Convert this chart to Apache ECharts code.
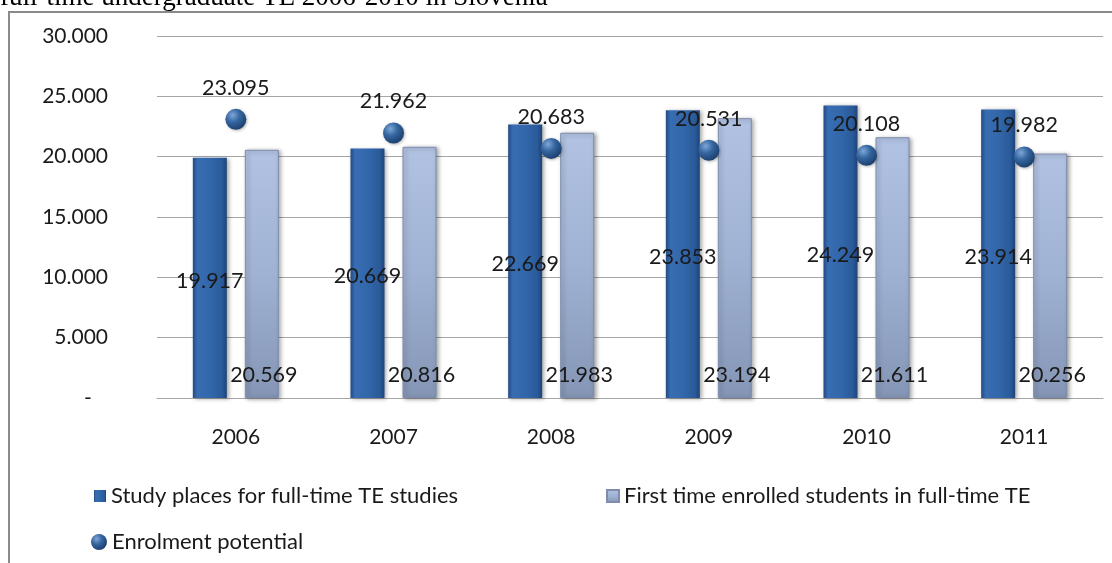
<!DOCTYPE html>
<html>
<head>
<meta charset="utf-8">
<script src="https://cdn.jsdelivr.net/npm/echarts@6/dist/echarts.min.js"></script>
<style>
  html, body { margin: 0; padding: 0; background: #ffffff; }
  #chart { width: 1112px; height: 563px; }
</style>
</head>
<body>
<div id="chart"></div>
<script>
// Full-time tertiary education in Slovenia, by year
const years = ['2006', '2007', '2008', '2009', '2010', '2011'];
const studyPlaces = [19917, 20669, 22669, 23853, 24249, 23914];
const firstEnrolled = [20569, 20816, 21983, 23194, 21611, 20256];
const enrolmentPotential = [23095, 21962, 20683, 20531, 20108, 19982];

const seriesNames = [
  'Study places for full-time TE studies',
  'First time enrolled students in full-time TE',
  'Enrolment potential'
];
const captionText = 'full-time undergraduate TE 2006-2010 in Slovenia';

const FONT = 'Lato, "Open Sans", sans-serif';
const TEXT = '#1a1a1a';
const NUM_SIZE = 21.5;

// thousands written with a dot, e.g. 23.095
function fmt(v) {
  return (v / 1000).toFixed(3);
}

const darkFill = new echarts.graphic.LinearGradient(0, 0, 1, 0, [
  { offset: 0, color: '#224b85' },
  { offset: 0.14, color: '#386db3' },
  { offset: 0.55, color: '#3166a9' },
  { offset: 0.86, color: '#2a5a99' },
  { offset: 1, color: '#1d447a' }
]);
const lightFill = new echarts.graphic.LinearGradient(0, 0, 0, 1, [
  { offset: 0, color: '#b1c2e2' },
  { offset: 0.5, color: '#a0b2d3' },
  { offset: 1, color: '#8495b5' }
]);
const sphereFill = new echarts.graphic.RadialGradient(0.35, 0.3, 0.75, [
  { offset: 0, color: '#7ea6d8' },
  { offset: 0.45, color: '#3566a0' },
  { offset: 1, color: '#1a3d6c' }
]);

const chart = echarts.init(document.getElementById('chart'), null, { renderer: 'canvas' });

chart.setOption({
  animation: false,
  backgroundColor: '#ffffff',
  textStyle: { fontFamily: FONT, color: TEXT },
  graphic: [
    {
      type: 'rect',
      silent: true,
      shape: { x: 9, y: 12, width: 1300, height: 800 },
      style: { fill: null, stroke: '#8a8a8a', lineWidth: 2 }
    },
    {
      type: 'text',
      silent: true,
      x: 0,
      y: 11,
      style: {
        text: captionText,
        font: '27px "Liberation Serif", "Times New Roman", serif',
        fill: '#000000',
        verticalAlign: 'bottom'
      }
    }
  ],
  grid: { left: 157, right: 9, top: 36, bottom: 165, containLabel: false },
  legend: [
    {
      data: [seriesNames[0]],
      left: 89, top: 480,
      icon: 'rect', itemWidth: 12, itemHeight: 12,
      textStyle: { fontFamily: FONT, fontSize: 22, color: TEXT }
    },
    {
      data: [seriesNames[1]],
      left: 601, top: 480,
      icon: 'rect', itemWidth: 12, itemHeight: 12,
      textStyle: { fontFamily: FONT, fontSize: 22, color: TEXT }
    },
    {
      data: [seriesNames[2]],
      left: 86, top: 526,
      icon: 'circle', itemWidth: 16, itemHeight: 16,
      textStyle: { fontFamily: FONT, fontSize: 22, color: TEXT }
    }
  ],
  xAxis: {
    type: 'category',
    data: years,
    axisLine: { lineStyle: { color: '#a6a6a6', width: 1 } },
    axisTick: { show: false },
    axisLabel: { margin: 29, fontSize: 21, fontFamily: FONT, color: TEXT }
  },
  yAxis: {
    type: 'value',
    min: 0,
    max: 30000,
    interval: 5000,
    axisLine: { show: false },
    axisTick: { show: false },
    splitLine: { lineStyle: { color: '#a6a6a6', width: 1 } },
    axisLabel: {
      margin: 49,
      fontSize: 21,
      fontFamily: FONT,
      color: TEXT,
      formatter: v => (v === 0 ? '-   ' : fmt(v))
    }
  },
  series: [
    {
      name: seriesNames[0],
      type: 'bar',
      data: studyPlaces,
      barWidth: 34,
      barGap: '53%',
      itemStyle: {
        color: darkFill,
        shadowColor: 'rgba(0,0,0,0.35)',
        shadowBlur: 4,
        shadowOffsetX: 2,
        shadowOffsetY: 1
      },
      label: {
        show: true,
        position: 'inside',
        offset: [0, 3],
        fontSize: NUM_SIZE,
        fontFamily: FONT,
        color: TEXT,
        formatter: p => fmt(p.value)
      },
      z: 2
    },
    {
      name: seriesNames[1],
      type: 'bar',
      data: firstEnrolled,
      barWidth: 34,
      itemStyle: {
        color: lightFill,
        borderColor: '#7d8dab',
        borderWidth: 1,
        shadowColor: 'rgba(0,0,0,0.35)',
        shadowBlur: 4,
        shadowOffsetX: 2,
        shadowOffsetY: 1
      },
      label: {
        show: true,
        position: 'insideBottom',
        distance: 12,
        offset: [2, 0],
        fontSize: NUM_SIZE,
        fontFamily: FONT,
        color: TEXT,
        formatter: p => fmt(p.value)
      },
      z: 2
    },
    {
      name: seriesNames[2],
      type: 'scatter',
      data: enrolmentPotential,
      symbol: 'circle',
      symbolSize: 21,
      itemStyle: {
        color: sphereFill,
        opacity: 1,
        shadowColor: 'rgba(0,0,0,0.3)',
        shadowBlur: 3,
        shadowOffsetX: 1,
        shadowOffsetY: 1
      },
      label: {
        show: true,
        position: 'top',
        distance: 10,
        fontSize: NUM_SIZE,
        fontFamily: FONT,
        color: TEXT,
        formatter: p => fmt(p.value)
      },
      z: 5
    }
  ]
});
</script>
</body>
</html>
